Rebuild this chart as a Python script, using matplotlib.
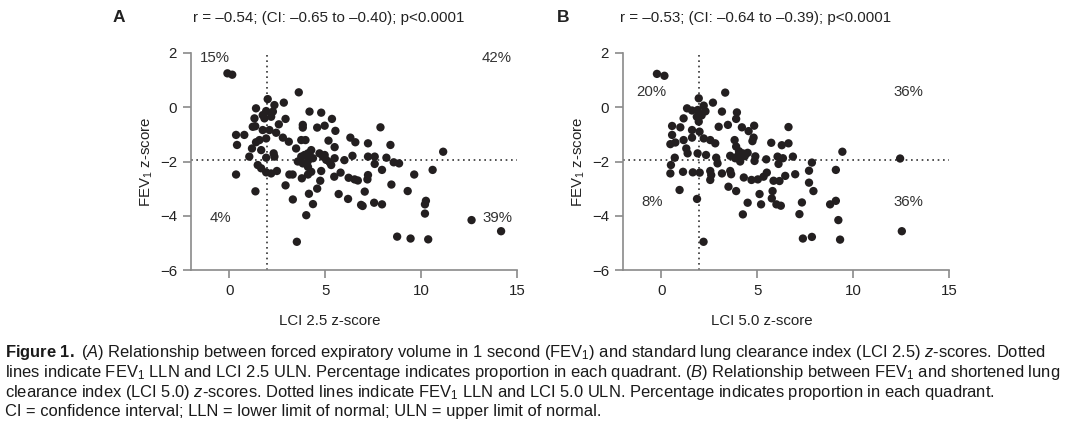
import matplotlib
matplotlib.use("Agg")
import matplotlib.pyplot as plt

plt.rcParams['font.family'] = ['Liberation Sans', 'DejaVu Sans']
plt.rcParams['mathtext.fontset'] = 'custom'
plt.rcParams['mathtext.rm'] = 'Liberation Sans'
plt.rcParams['mathtext.it'] = 'Liberation Sans:italic'
plt.rcParams['mathtext.bf'] = 'Liberation Sans:bold'

# ---------------- data ----------------
lci25_x = [-0.1, 0.15, 3.62, 2.0, 2.84, 2.35, 1.39, 1.92, 2.27, 1.74, 2.18, 1.31, 1.83, 2.93,
           4.18, 4.79, 5.35, 2.58, 3.83, 3.83, 4.58, 4.97, 5.53, 7.88, 1.22, 1.35, 1.74, 2.09,
           2.44, 0.35, 0.78, 0.40, 1.57, 1.39, 1.92, 2.79, 3.1, 3.75, 3.97, 5.17, 6.31, 6.57,
           7.23, 8.4, 5.49, 1.18, 1.66, 2.31, 3.48, 4.27, 4.1, 1.04, 1.92, 2.35,
           3.75, 3.92, 4.18, 3.57, 3.83, 4.1, 4.36, 4.7, 4.97, 5.05, 5.23, 5.49, 5.31, 4.88,
           6.0, 6.42, 7.23, 7.58, 8.19, 8.57, 8.85, 11.15, 7.58, 1.48, 1.66, 1.92, 2.18, 2.48,
           0.35, 3.13, 3.3, 4.1, 4.1, 4.27, 4.79, 5.47, 5.8, 6.22, 6.53, 6.7, 7.23, 7.2, 7.96,
           8.45, 9.64, 10.6, 2.93, 1.36, 3.78, 4.74, 4.58, 4.15, 3.31, 4.36, 5.7, 6.19, 7.06,
           6.87, 6.95, 7.55, 7.96, 9.3, 10.25, 10.2, 10.2, 4.01, 3.52, 8.75, 9.45, 10.37,
           12.63, 14.17]
fev_a = [1.25, 1.2, 0.55, 0.30, 0.17, 0.08, -0.04, -0.14, -0.16, -0.29, -0.35, -0.41, -0.41, -0.43,
         -0.16, -0.20, -0.43, -0.63, -0.65, -0.75, -0.75, -0.68, -0.87, -0.74, -0.72, -0.70, -0.84, -0.84,
         -0.94, -1.02, -1.02, -1.39, -1.21, -1.29, -1.15, -1.12, -1.27, -1.21, -1.21, -1.23, -1.12, -1.29,
         -1.33, -1.39, -1.47, -1.52, -1.58, -1.70, -1.52, -1.58, -1.70, -1.82, -1.86, -1.82,
         -1.82, -1.76, -1.70, -2.0, -2.07, -1.98, -1.88, -1.70, -1.76, -1.94, -2.03, -1.88, -2.13, -1.82,
         -1.95, -1.79, -1.82, -1.82, -1.86, -2.03, -2.07, -1.64, -2.09, -2.13, -2.25, -2.40, -2.44, -2.35,
         -2.48, -2.48, -2.48, -2.20, -2.48, -2.38, -2.35, -2.56, -2.41, -2.60, -2.66, -2.70, -2.50, -2.66, -2.31,
         -2.85, -2.48, -2.31, -2.88, -3.10, -2.62, -2.71, -3.0, -3.19, -3.40, -3.57, -3.20, -3.38, -3.11,
         -3.60, -3.64, -3.52, -3.58, -3.09, -3.45, -3.58, -3.92, -3.98, -4.96, -4.77, -4.84, -4.87,
         -4.16, -4.57]

lci50_x = [-0.23, 0.16, 3.33, 1.95, 2.69, 2.21, 1.34, 1.6, 1.9, 2.0, 1.85, 2.1, 2.3, 3.16, 3.94,
           3.9, 1.16, 1.95, 0.56, 0.99, 1.6, 1.99, 2.99, 3.47, 4.2, 4.55, 4.84, 6.63, 0.56, 0.47,
           0.73, 1.16, 1.6, 2.21, 2.55, 2.81, 3.82, 4.81, 4.75, 3.9, 4.05, 4.25, 4.0, 4.35, 4.5,
           5.73, 6.28, 6.63, 1.3, 1.37, 1.89, 2.33, 2.86, 3.59, 3.85, 4.11, 4.9, 4.86, 5.47, 6.06,
           6.34, 6.11, 6.86, 7.85, 9.44, 0.7, 0.5, 0.47, 1.13, 1.64, 2.0, 2.55, 2.6, 2.55, 2.93,
           3.16, 3.59, 3.64, 4.3, 4.7, 5.03, 5.5, 5.33, 5.85, 6.16, 6.46, 6.98, 7.7, 9.1, 7.7, 7.93,
           3.5, 3.9, 5.12, 5.8, 5.76, 6.0, 6.23, 5.2, 4.5, 4.25, 7.33, 7.2, 8.8, 9.1, 9.23, 0.95,
           1.86, 2.2, 7.38, 7.85, 9.32, 12.45, 12.54]
fev_b = [1.23, 1.16, 0.54, 0.33, 0.17, 0.06, -0.04, -0.12, -0.10, -0.25, -0.35, -0.30, -0.15, -0.16, -0.19,
         -0.43, -0.41, -0.53, -0.69, -0.74, -0.84, -0.90, -0.72, -0.65, -0.74, -0.88, -0.68, -0.73, -1.02, -1.36,
         -1.30, -1.21, -1.12, -1.15, -1.21, -1.33, -1.21, -1.12, -1.25, -1.45, -1.62, -1.70, -1.78, -1.80, -1.68,
         -1.31, -1.40, -1.33, -1.52, -1.70, -1.70, -1.76, -1.86, -1.79, -1.88, -2.0, -1.81, -1.98, -1.92, -1.82,
         -1.88, -2.09, -1.82, -2.04, -1.64, -1.86, -2.13, -2.44, -2.38, -2.40, -2.41, -2.35, -2.50, -2.68, -2.07,
         -2.44, -2.35, -2.47, -2.59, -2.68, -2.66, -2.41, -2.56, -2.71, -2.72, -2.53, -2.47, -2.34, -2.31, -2.78, -3.09,
         -2.93, -3.09, -3.20, -3.09, -3.36, -3.58, -3.63, -3.58, -3.52, -3.95, -3.51, -3.94, -3.58, -3.45, -4.16, -3.05,
         -3.38, -4.96, -4.84, -4.78, -4.88, -1.89, -4.57]

x_ticks = [0, 5, 10, 15]
y_ticks = [-6, -4, -2, 0, 2]
lln = -1.96
uln = 1.96

panels = [
    dict(x=lci25_x, y=fev_a, letter='A', left=191, letter_x=113, stat_cx=329,
         stat='r = \u20130.54; (CI: \u20130.65 to \u20130.40); p<0.0001',
         xlabel='LCI 2.5 z-score',
         pct=[('15%', -0.78, 1.82), ('42%', 13.96, 1.82), ('4%', -0.47, -4.09), ('39%', 13.96, -4.09)]),
    dict(x=lci50_x, y=fev_b, letter='B', left=623, letter_x=557, stat_cx=756,
         stat='r = \u20130.53; (CI: \u20130.64 to \u20130.39); p<0.0001',
         xlabel='LCI 5.0 z-score',
         pct=[('20%', -0.52, 0.57), ('36%', 12.86, 0.55), ('8%', -0.47, -3.51), ('36%', 12.86, -3.51)]),
]

W, H = 1080, 424
fig = plt.figure(figsize=(W / 100, H / 100), dpi=100)
spine_col = '#8a8a8a'
txt_col = '#222222'

for p in panels:
    ax = fig.add_axes([p['left'] / W, (H - 270) / H, 326 / W, 217 / H])
    ax.scatter(p['x'], p['y'], s=36, color='#231f20', edgecolors='none', zorder=3)
    ax.plot([-2, 15], [lln, lln], linestyle=(0, (1, 2.2)), color='#333333', lw=1.2, zorder=2)
    ax.plot([uln, uln], [-6, 2], linestyle=(0, (1, 2.2)), color='#333333', lw=1.2, zorder=2)
    ax.set_xlim(-2, 15)
    ax.set_ylim(-6, 2)
    ax.set_xticks(x_ticks)
    ax.set_yticks(y_ticks)
    for s in ['top', 'right']:
        ax.spines[s].set_visible(False)
    for s in ['left', 'bottom']:
        ax.spines[s].set_color(spine_col)
        ax.spines[s].set_linewidth(1.2)
    ax.tick_params(axis='both', colors=spine_col, labelcolor=txt_col, length=6, width=1.2,
                   labelsize=10.8, pad=4)
    for t, xx, yy in p['pct']:
        ax.text(xx, yy, t, ha='center', va='center', fontsize=10.8, color='#333333')
    fig.text(p['letter_x'] / W, 1 - 18 / H, p['letter'], fontsize=12.5, fontweight='bold',
             ha='left', va='center', color=txt_col)
    fig.text(p['stat_cx'] / W, 1 - 18 / H, p['stat'], fontsize=10.9, ha='center', va='center',
             color=txt_col)
    fig.text((p['left'] + 139) / W, 1 - 321 / H, p['xlabel'], fontsize=10.8, ha='center', va='center',
             color=txt_col)
    fig.text((p['left'] - 44) / W, 1 - 162 / H, 'FEV$_1$ z-score', fontsize=10.8, ha='center',
             va='center', rotation=90, color=txt_col)

cap = [
    r'$\mathbf{Figure\ 1.}$ ($\mathit{A}$) Relationship between forced expiratory volume in 1 second (FEV$_1$) and standard lung clearance index (LCI 2.5) $\mathit{z}$-scores. Dotted',
    r'lines indicate FEV$_1$ LLN and LCI 2.5 ULN. Percentage indicates proportion in each quadrant. ($\mathit{B}$) Relationship between FEV$_1$ and shortened lung',
    r'clearance index (LCI 5.0) $\mathit{z}$-scores. Dotted lines indicate FEV$_1$ LLN and LCI 5.0 ULN. Percentage indicates proportion in each quadrant.',
    r'CI = confidence interval; LLN = lower limit of normal; ULN = upper limit of normal.',
]
for i, line in enumerate(cap):
    fig.text(5 / W, 1 - (353 + 19.5 * i) / H, line, fontsize=11.9, ha='left', va='center',
             color='#1a1a1a')

fig.savefig('out.png', dpi=100)
